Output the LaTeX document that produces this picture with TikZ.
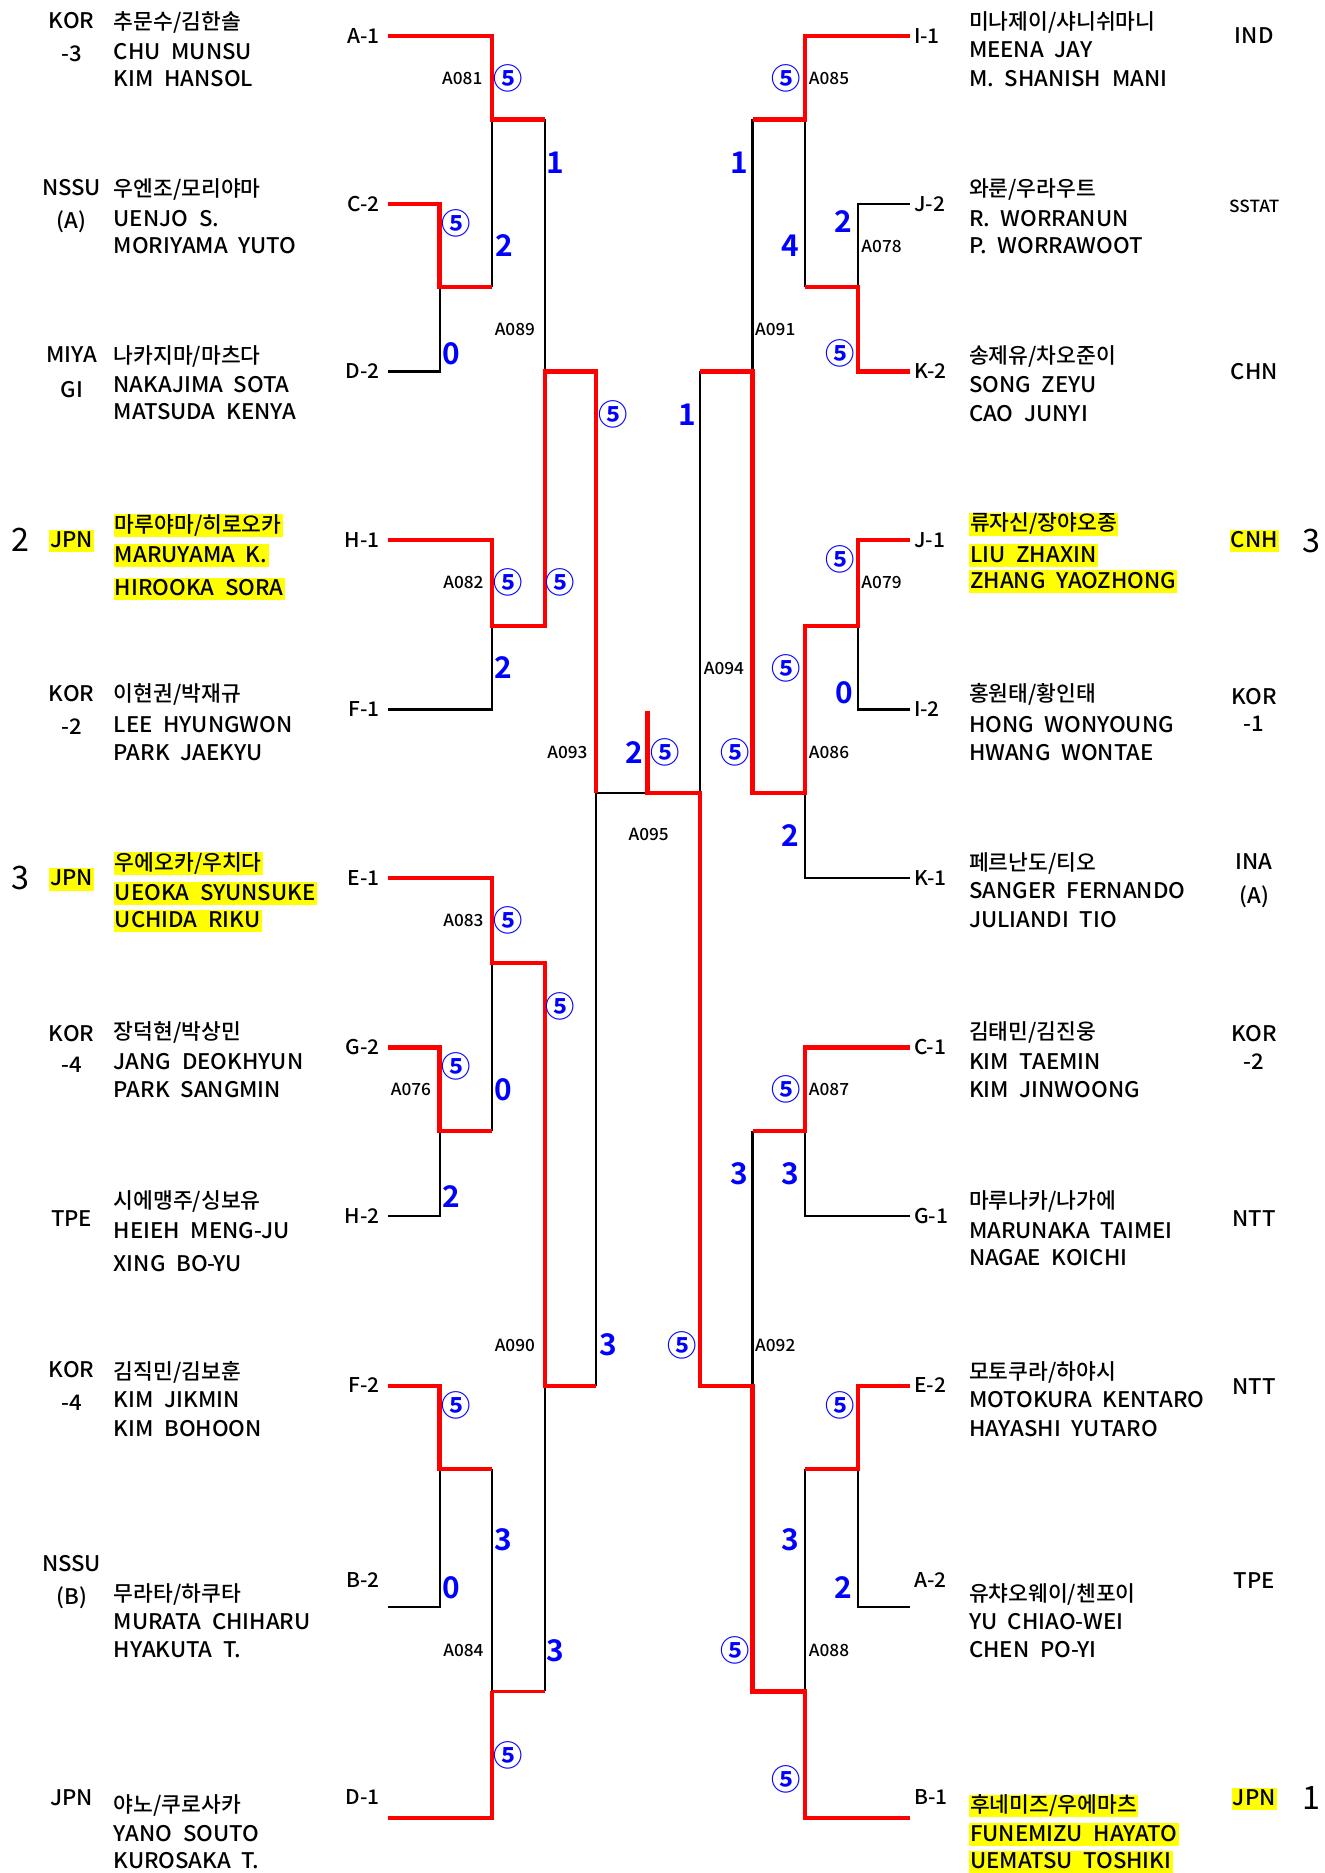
\documentclass[tikz,border=0pt]{standalone}
\usepackage{fontspec}
\setmainfont{Noto Sans CJK KR Medium}[FakeStretch=1.03]
\newfontfamily\krf{Noto Sans CJK KR Medium}
\newfontfamily\cff{Noto Sans CJK KR Bold}
\newfontfamily\rkf{Noto Sans CJK KR}
\newfontfamily\scf{Noto Sans CJK KR Bold}
\usetikzlibrary{calc}
\newcommand\fsz[1]{\fontsize{#1}{#1}\selectfont}
\newcommand\gp{\hspace{0.5em}}
\definecolor{hly}{RGB}{255,255,0}
\definecolor{scb}{RGB}{0,0,255}
\definecolor{wred}{RGB}{255,0,0}
\begin{document}
\begin{tikzpicture}[x=1pt,y=-1pt,
  lose/.style={draw=black,line width=1.8pt},
  win/.style={draw=wred,line width=3.6pt},
  winthin/.style={draw=wred,line width=1.8pt},
  nm/.style={anchor=base west,yshift=-6.5pt,inner sep=0pt,font=\fsz{18}},
  nmh/.style={nm,fill=hly,inner sep=1pt,text height=14pt,text depth=3pt},
  nk/.style={nm,font=\fsz{18}\krf},
  nkh/.style={nmh,font=\fsz{18}\krf},
  tm/.style={anchor=base,yshift=-6.5pt,inner sep=0pt,font=\fsz{18}},
  tmh/.style={tm,fill=hly,inner sep=1pt,text height=14pt,text depth=3pt},
  rk/.style={anchor=base,yshift=-9.5pt,inner sep=0pt,font=\fsz{27}\rkf},
  lfl/.style={anchor=base east,yshift=-6pt,inner sep=0pt,font=\fsz{17}},
  lfr/.style={anchor=base west,yshift=-6pt,inner sep=0pt,font=\fsz{17}},
  sco/.style={anchor=base,yshift=-9pt,inner sep=0pt,text=scb,font=\fsz{25}\scf},
  cfv/.style={anchor=base,yshift=-9.2pt,inner sep=0pt,text=scb,font=\fsz{24.5}\cff},
  mlab/.style={anchor=base,yshift=-5pt,inner sep=0pt,font=\fsz{14}}
]
\useasboundingbox (0,0) rectangle (1109,1568);
% ---------- coordinates ----------
\coordinate (lA1) at (325,30);   \coordinate (lC2) at (325,171);
\coordinate (lD2) at (325,311);  \coordinate (lH1) at (325,452);
\coordinate (lF1) at (325,594);  \coordinate (lE1) at (325,735);
\coordinate (lG2) at (325,877);  \coordinate (lH2) at (325,1018);
\coordinate (lF2) at (325,1160); \coordinate (lB2) at (325,1345);
\coordinate (lD1) at (325,1522);
\coordinate (rI1) at (762,30);   \coordinate (rJ2) at (762,171);
\coordinate (rK2) at (762,311);  \coordinate (rJ1) at (762,452);
\coordinate (rI2) at (762,594);  \coordinate (rK1) at (762,735);
\coordinate (rC1) at (762,877);  \coordinate (rG1) at (762,1018);
\coordinate (rE2) at (762,1160); \coordinate (rA2) at (762,1345);
\coordinate (rB1) at (762,1522);
\coordinate (jCD) at (368,240);  \coordinate (j081) at (412,100);
\coordinate (j082) at (412,524); \coordinate (j089) at (456,311);
\coordinate (j076) at (368,947); \coordinate (j083) at (412,806);
\coordinate (jFB) at (368,1230); \coordinate (j084) at (412,1416);
\coordinate (j090) at (456,1160);\coordinate (j093) at (499,664);
\coordinate (j095) at (542,664); \coordinate (jtop) at (542,595);
\coordinate (j085) at (674,100); \coordinate (j078) at (718,240);
\coordinate (j079) at (718,524); \coordinate (j086) at (674,664);
\coordinate (j091) at (630,311); \coordinate (j087) at (674,947);
\coordinate (jEA) at (718,1230); \coordinate (j088) at (674,1416);
\coordinate (j092) at (630,1160);\coordinate (j094) at (586,664);
% ---------- losing lines ----------
\draw[lose] (lD2) -| (jCD);
\draw[lose] (jCD -| j081) -- (j081);
\draw[lose] (j081 -| j089) -- (j089);
\draw[lose] (lF1) -| (j082);
\draw[lose] (j093) -- (j095);
\draw[lose] (j090 -| j093) -- (j093);
\draw[lose] (lH2) -| (j076);
\draw[lose] (j076 -| j083) -- (j083);
\draw[lose] (lB2) -| (jFB);
\draw[lose] (jFB -| j084) -- (j084);
\draw[lose] (j084 -| j090) -- (j090);
\draw[lose] (rJ2) -| (j078);
\draw[lose] (j078 -| j085) -- (j085);
\draw[lose] (j085 -| j091) -- (j091);
\draw[lose] (rI2) -| (j079);
\draw[lose] (rK1) -| (j086);
\draw[lose] (j091 -| j094) -- (j094);
\draw[lose] (rG1) -| (j087);
\draw[lose] (j087 -| j092) -- (j092);
\draw[lose] (rA2) -| (jEA);
\draw[lose] (jEA -| j088) -- (j088);
% ---------- winning lines ----------
\draw[win] (lA1) -| (j081) -- (j081 -| j089);
\draw[win] (lC2) -| (jCD) -- (jCD -| j081);
\draw[win] (lH1) -| (j082) -- (j082 -| j089) -- (j089) -- (j089 -| j093) -- (j093);
\draw[win] (lE1) -| (j083) -- (j083 -| j090) -- (j090) -- (j090 -| j093);
\draw[win] (lG2) -| (j076) -- (j076 -| j083);
\draw[win] (lF2) -| (jFB) -- (jFB -| j084);
\draw[win] (lD1) -| (j084);
\draw[winthin] (j084) -- (j084 -| j090);
\draw[win] (rI1) -| (j085) -- (j085 -| j091);
\draw[win] (rK2) -| (j078) -- (j078 -| j085);
\draw[win] (rJ1) -| (j079) -- (j079 -| j086) -- (j086) -- (j086 -| j091) -- (j091) -- (j091 -| j094);
\draw[win] (rC1) -| (j087) -- (j087 -| j092);
\draw[win] (rE2) -| (jEA) -- (jEA -| j088);
\draw[win] (rB1) -| (j088) -- (j088 -| j092) -- (j092) -- (j092 -| j094) -- (j094) -- (j095) -- (jtop);
% ---------- leaf labels ----------
\node[lfl] (tA1) at (318,30) {A-1};
\node[lfl] (tC2) at (318,171) {C-2};
\node[lfl] (tD2) at (318,311) {D-2};
\node[lfl] (tH1) at (318,452) {H-1};
\node[lfl] (tF1) at (318,594) {F-1};
\node[lfl] (tE1) at (318,735) {E-1};
\node[lfl] (tG2) at (318,877) {G-2};
\node[lfl] (tH2) at (318,1018) {H-2};
\node[lfl] (tF2) at (318,1160) {F-2};
\node[lfl] (tB2) at (318,1323) {B-2};
\node[lfl] (tD1) at (318,1505) {D-1};
\node[lfr] (tI1) at (765,30) {I-1};
\node[lfr] (tJ2) at (765,171) {J-2};
\node[lfr] (tK2) at (765,311) {K-2};
\node[lfr] (tJ1) at (765,452) {J-1};
\node[lfr] (tI2) at (765,594) {I-2};
\node[lfr] (tK1) at (765,735) {K-1};
\node[lfr] (tC1) at (765,877) {C-1};
\node[lfr] (tG1) at (765,1018) {G-1};
\node[lfr] (tE2) at (765,1160) {E-2};
\node[lfr] (tA2) at (765,1323) {A-2};
\node[lfr] (tB1) at (765,1505) {B-1};
% ---------- match labels ----------
\node[mlab] (m081) at (387,66) {A081};
\node[mlab] (m089) at (431,276) {A089};
\node[mlab] (m082) at (388,488) {A082};
\node[mlab] (m093) at (475,630) {A093};
\node[mlab] (m095) at (543,699) {A095};
\node[mlab] (m083) at (388,771) {A083};
\node[mlab] (m076) at (344,912) {A076};
\node[mlab] (m090) at (431,1126) {A090};
\node[mlab] (m084) at (388,1382) {A084};
\node[mlab] (m085) at (694,66) {A085};
\node[mlab] (m078) at (738,206) {A078};
\node[mlab] (m091) at (649,276) {A091};
\node[mlab] (m079) at (738,488) {A079};
\node[mlab] (m094) at (606,560) {A094};
\node[mlab] (m086) at (694,630) {A086};
\node[mlab] (m087) at (694,912) {A087};
\node[mlab] (m092) at (649,1126) {A092};
\node[mlab] (m088) at (694,1382) {A088};
% ---------- scores ----------
\node[cfv] (s01) at (425,66) {⑤};
\node[sco] (s02) at (422,206) {2};
\node[cfv] (s03) at (382,187) {⑤};
\node[sco] (s04) at (378,296) {0};
\node[sco] (s05) at (465,136) {1};
\node[cfv] (s06) at (513,347) {⑤};
\node[cfv] (s07) at (425,488) {⑤};
\node[cfv] (s08) at (469,488) {⑤};
\node[sco] (s09) at (421,559) {2};
\node[sco] (s10) at (531,630) {2};
\node[cfv] (s11) at (557,630) {⑤};
\node[cfv] (s12) at (425,771) {⑤};
\node[cfv] (s13) at (469,843) {⑤};
\node[cfv] (s14) at (382,893) {⑤};
\node[sco] (s15) at (421,912) {0};
\node[sco] (s16) at (378,1002) {2};
\node[sco] (s17) at (509,1126) {3};
\node[cfv] (s18) at (382,1177) {⑤};
\node[sco] (s19) at (421,1289) {3};
\node[sco] (s20) at (378,1329) {0};
\node[sco] (s21) at (465,1382) {3};
\node[cfv] (s22) at (425,1470) {⑤};
\node[cfv] (s23) at (658,66) {⑤};
\node[sco] (s24) at (619,136) {1};
\node[sco] (s25) at (706,186) {2};
\node[sco] (s26) at (662,206) {4};
\node[cfv] (s27) at (703,296) {⑤};
\node[sco] (s28) at (575,347) {1};
\node[cfv] (s29) at (703,468) {⑤};
\node[cfv] (s30) at (658,560) {⑤};
\node[sco] (s31) at (707,580) {0};
\node[cfv] (s32) at (615,630) {⑤};
\node[sco] (s33) at (662,700) {2};
\node[cfv] (s34) at (658,912) {⑤};
\node[sco] (s35) at (619,983) {3};
\node[sco] (s36) at (662,983) {3};
\node[cfv] (s37) at (571,1126) {⑤};
\node[cfv] (s38) at (703,1177) {⑤};
\node[sco] (s39) at (662,1289) {3};
\node[sco] (s40) at (706,1329) {2};
\node[cfv] (s41) at (615,1382) {⑤};
\node[cfv] (s42) at (658,1490) {⑤};
% ---------- left teams ----------
\node[tm] (c01a) at (60,17) {KOR};   \node[tm] (c01b) at (60,45) {-3};
\node[tm] (c02a) at (60,157) {NSSU}; \node[tm] (c02b) at (60,185) {(A)};
\node[tm] (c03a) at (60,297) {MIYA}; \node[tm] (c03b) at (60,326) {GI};
\node[tmh] (c04a) at (60,452) {JPN}; \node[rk] (k04) at (17,452) {2};
\node[tm] (c05a) at (60,581) {KOR};  \node[tm] (c05b) at (60,608) {-2};
\node[tmh] (c06a) at (60,735) {JPN}; \node[rk] (k06) at (17,735) {3};
\node[tm] (c07a) at (60,865) {KOR};  \node[tm] (c07b) at (60,891) {-4};
\node[tm] (c08a) at (60,1020) {TPE};
\node[tm] (c09a) at (60,1147) {KOR}; \node[tm] (c09b) at (60,1174) {-4};
\node[tm] (c10a) at (60,1309) {NSSU};\node[tm] (c10b) at (60,1337) {(B)};
\node[tm] (c11a) at (60,1505) {JPN};
% ---------- left names ----------
\node[nk] (n01k) at (95,18) {추문수/김한솔};
\node[nm] (n01a) at (95,43) {CHU\gp MUNSU};
\node[nm] (n01b) at (95,66) {KIM\gp HANSOL};
\node[nk] (n02k) at (95,158) {우엔조/모리야마};
\node[nm] (n02a) at (95,183) {UENJO\gp S.};
\node[nm] (n02b) at (95,206) {MORIYAMA\gp YUTO};
\node[nk] (n03k) at (95,298) {나카지마/마츠다};
\node[nm] (n03a) at (95,322) {NAKAJIMA\gp SOTA};
\node[nm] (n03b) at (95,345) {MATSUDA\gp KENYA};
\node[nkh] (n04k) at (95,439) {마루야마/히로오카};
\node[nmh] (n04a) at (95,464) {MARUYAMA\gp K.};
\node[nmh] (n04b) at (95,492) {HIROOKA\gp SORA\gp};
\node[nk] (n05k) at (95,581) {이현권/박재규};
\node[nm] (n05a) at (95,607) {LEE\gp HYUNGWON};
\node[nm] (n05b) at (95,630) {PARK\gp JAEKYU};
\node[nkh] (n06k) at (95,722) {우에오카/우치다};
\node[nmh] (n06a) at (95,747) {UEOKA\gp SYUNSUKE};
\node[nmh] (n06b) at (95,770) {UCHIDA\gp RIKU};
\node[nk] (n07k) at (95,864) {장덕현/박상민};
\node[nm] (n07a) at (95,889) {JANG\gp DEOKHYUN};
\node[nm] (n07b) at (95,912) {PARK\gp SANGMIN};
\node[nk] (n08k) at (95,1005) {시에맹주/싱보유};
\node[nm] (n08a) at (95,1030) {HEIEH\gp MENG-JU};
\node[nm] (n08b) at (95,1058) {XING\gp BO-YU};
\node[nk] (n09k) at (95,1148) {김직민/김보훈};
\node[nm] (n09a) at (95,1172) {KIM\gp JIKMIN};
\node[nm] (n09b) at (95,1196) {KIM\gp BOHOON};
\node[nk] (n10k) at (95,1334) {무라타/하쿠타};
\node[nm] (n10a) at (95,1358) {MURATA\gp CHIHARU};
\node[nm] (n10b) at (95,1381) {HYAKUTA\gp T.};
\node[nk] (n11k) at (95,1511) {야노/쿠로사카};
\node[nm] (n11a) at (95,1535) {YANO\gp SOUTO};
\node[nm] (n11b) at (95,1558) {KUROSAKA\gp T.};
% ---------- right names ----------
\node[nk] (p01k) at (811,18) {미나제이/샤니쉬마니};
\node[nm] (p01a) at (811,42) {MEENA\gp JAY};
\node[nm] (p01b) at (811,66) {M.\gp SHANISH\gp MANI};
\node[nk] (p02k) at (811,158) {와룬/우라우트};
\node[nm] (p02a) at (811,183) {R.\gp WORRANUN};
\node[nm] (p02b) at (811,206) {P.\gp WORRAWOOT};
\node[nk] (p03k) at (811,298) {송제유/차오준이};
\node[nm] (p03a) at (811,322) {SONG\gp ZEYU};
\node[nm] (p03b) at (811,346) {CAO\gp JUNYI};
\node[nkh] (p04k) at (811,438) {류자신/장야오종};
\node[nmh] (p04a) at (811,464) {LIU\gp ZHAXIN};
\node[nmh] (p04b) at (811,486) {ZHANG\gp YAOZHONG};
\node[nk] (p05k) at (811,581) {홍원태/황인태};
\node[nm] (p05a) at (811,607) {HONG\gp WONYOUNG};
\node[nm] (p05b) at (811,630) {HWANG\gp WONTAE};
\node[nk] (p06k) at (811,722) {페르난도/티오};
\node[nm] (p06a) at (811,746) {SANGER\gp FERNANDO};
\node[nm] (p06b) at (811,770) {JULIANDI\gp TIO};
\node[nk] (p07k) at (811,864) {김태민/김진웅};
\node[nm] (p07a) at (811,889) {KIM\gp TAEMIN};
\node[nm] (p07b) at (811,912) {KIM\gp JINWOONG};
\node[nk] (p08k) at (811,1005) {마루나카/나가에};
\node[nm] (p08a) at (811,1030) {MARUNAKA\gp TAIMEI};
\node[nm] (p08b) at (811,1053) {NAGAE\gp KOICHI};
\node[nk] (p09k) at (811,1148) {모토쿠라/하야시};
\node[nm] (p09a) at (811,1172) {MOTOKURA\gp KENTARO};
\node[nm] (p09b) at (811,1196) {HAYASHI\gp YUTARO};
\node[nk] (p10k) at (811,1334) {유챠오웨이/첸포이};
\node[nm] (p10a) at (811,1358) {YU\gp CHIAO-WEI};
\node[nm] (p10b) at (811,1381) {CHEN\gp PO-YI};
\node[nkh] (p11k) at (811,1511) {후네미즈/우에마츠};
\node[nmh] (p11a) at (811,1535) {FUNEMIZU\gp HAYATO};
\node[nmh] (p11b) at (811,1558) {UEMATSU\gp TOSHIKI};
% ---------- right teams ----------
\node[tm] (d01a) at (1050,30) {IND};
\node[tm,font=\fsz{14}] (d02a) at (1050,171) {SSTAT};
\node[tm] (d03a) at (1050,311) {CHN};
\node[tmh] (d04a) at (1050,452) {CNH}; \node[rk] (q04) at (1098,453) {3};
\node[tm] (d05a) at (1050,583) {KOR};  \node[tm] (d05b) at (1050,606) {-1};
\node[tm] (d06a) at (1050,721) {INA};  \node[tm] (d06b) at (1050,750) {(A)};
\node[tm] (d07a) at (1050,865) {KOR};  \node[tm] (d07b) at (1050,889) {-2};
\node[tm] (d08a) at (1050,1020) {NTT};
\node[tm] (d09a) at (1050,1161) {NTT};
\node[tm] (d10a) at (1050,1323) {TPE};
\node[tmh] (d11a) at (1050,1505) {JPN}; \node[rk] (q11) at (1098,1505) {1};
\end{tikzpicture}
\end{document}
